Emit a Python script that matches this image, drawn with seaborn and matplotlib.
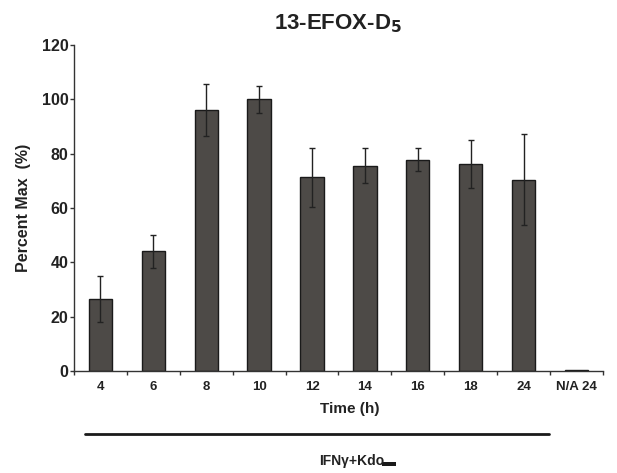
import numpy as np
import pandas as pd
import matplotlib.pyplot as plt
import seaborn as sns
from matplotlib.lines import Line2D
from matplotlib.patches import Rectangle

# values
times = ['4', '6', '8', '10', '12', '14', '16', '18', '24', 'N/A 24']
percent_max = [26.5, 44.0, 96.2, 100.0, 71.3, 75.6, 77.8, 76.3, 70.5, 0.3]
sem = [8.6, 6.0, 9.6, 5.0, 10.8, 6.5, 4.3, 8.8, 16.8, 0.0]

df = pd.DataFrame({'time': times, 'pct': percent_max, 'err': sem})

sns.set_style('white')
plt.rcParams['font.family'] = ['Liberation Sans', 'DejaVu Sans']
plt.rcParams['font.weight'] = 'bold'

fig = plt.figure(figsize=(6.17, 4.73), dpi=100)
ax = fig.add_axes([0.1199, 0.2156, 0.8574, 0.6892])

sns.barplot(data=df, x='time', y='pct', color='#4d4a47', edgecolor='#1a1a1a',
            linewidth=1.0, width=0.44, saturation=1, errorbar=None, ax=ax)

# error bars at bar centres
xs = [p.get_x() + p.get_width() / 2 for p in ax.patches]
keep = [i for i in range(len(xs)) if sem[i] > 0]
ax.errorbar([xs[i] for i in keep], [percent_max[i] for i in keep],
            yerr=[sem[i] for i in keep], fmt='none', ecolor='#222222',
            elinewidth=1.0, capsize=2.2, capthick=1.0)

ax.set_xlim(-0.5, len(times) - 0.5)
ax.set_ylim(0, 120)
ax.set_yticks(np.arange(0, 121, 20))
ax.tick_params(axis='y', which='major', direction='out', length=2.8, width=1,
               color='#333333', labelsize=11.5, pad=1, left=True)
ax.tick_params(axis='x', which='major', length=0, labelsize=9.5, pad=7)
ax.set_xticks(np.arange(-0.5, len(times), 1.0), minor=True)
ax.tick_params(axis='x', which='minor', direction='out', length=2.8, width=1,
               color='#333333', bottom=True)
for lbl in ax.get_xticklabels() + ax.get_yticklabels():
    lbl.set_fontweight('bold')
    lbl.set_color('#222222')

for side in ['top', 'right']:
    ax.spines[side].set_visible(False)
for side in ['left', 'bottom']:
    ax.spines[side].set_color('#333333')
    ax.spines[side].set_linewidth(1.0)

ax.set_title('13-EFOX-D$_\\mathbf{5}$', fontsize=16, fontweight='bold',
             color='#222222', pad=11)
ax.set_ylabel('Percent Max  (%)', fontsize=11.5, fontweight='bold', color='#222222', labelpad=8)
ax.set_xlabel('Time (h)', fontsize=11, fontweight='bold', color='#222222', labelpad=8)
ax.xaxis.set_label_coords(0.522, -0.095)

# treatment bracket line and label
fig.add_artist(Line2D([85 / 617, 549 / 617], [1 - 434 / 473, 1 - 434 / 473],
                      color='#1a1a1a', linewidth=2.0))
fig.text(319 / 617, 1 - 461 / 473, 'IFNγ+Kdo', fontsize=10, fontweight='bold',
         color='#222222', ha='left', va='center')
fig.add_artist(Rectangle((382 / 617, 1 - 466 / 473), 14 / 617, 4 / 473,
                         facecolor='#1a1a1a', edgecolor='none'))

fig.savefig('out.png', dpi=100)
